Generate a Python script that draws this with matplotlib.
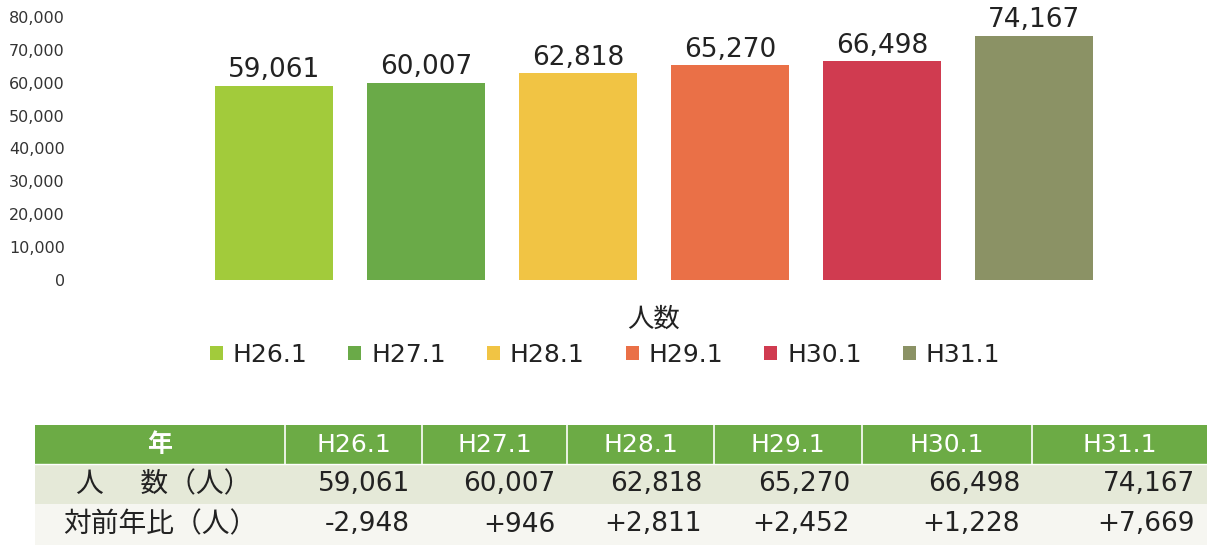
import matplotlib.pyplot as plt
from matplotlib.patches import Rectangle

# data
years = ['H26.1', 'H27.1', 'H28.1', 'H29.1', 'H30.1', 'H31.1']
people = [59061, 60007, 62818, 65270, 66498, 74167]
diff = ['-2,948', '+946', '+2,811', '+2,452', '+1,228', '+7,669']
row_labels = ['年', '人\u3000 数（人）', '対前年比（人）']
colors = ['#a2cb3b', '#6aaa48', '#f1c444', '#ea7047', '#d03b50', '#8b9265']

plt.rcParams['font.family'] = ['DejaVu Sans', 'Noto Sans CJK JP']


def main():
    fig = plt.figure(figsize=(12.1, 5.45), dpi=100, facecolor='white')

    # bar chart
    ax = fig.add_axes([198 / 1210, 1 - 280 / 545, 912 / 1210, 263 / 545])
    x = list(range(len(years)))
    bars = ax.bar(x, people, width=0.78, color=colors, label=years)
    ax.bar_label(bars, labels=[f'{v:,}' for v in people], padding=2,
                 fontsize=19, color='#222222')
    ax.set_xlim(-0.5, len(years) - 0.5)
    ax.set_ylim(0, 80000)
    ax.set_yticks(range(0, 80001, 10000))
    ax.set_yticklabels([f'{v:,}' for v in range(0, 80001, 10000)])
    ax.tick_params(axis='y', length=0, pad=96, labelsize=11.5, labelcolor='#333333')
    ax.set_xticks([])
    for s in ax.spines.values():
        s.set_visible(False)
    ax.set_xlabel('人数', fontsize=19, labelpad=19, color='#222222')

    fig.legend(handles=bars.patches, labels=years, loc='center',
               bbox_to_anchor=(605 / 1210, 1 - 355 / 545), ncol=6, frameon=False,
               fontsize=18, handlelength=0.52, handleheight=0.48,
               handletextpad=0.4, columnspacing=1.64, labelcolor='#222222')

    # table drawn in pixel coordinates
    tx = fig.add_axes([0, 0, 1, 1])
    tx.set_xlim(0, 1210)
    tx.set_ylim(545, 0)
    tx.axis('off')
    col_edges = [35, 285, 422, 567, 714, 862, 1032, 1207]
    row_edges = [425, 464, 504, 545]
    row_bg = ['#6cab45', '#e5e9d8', '#f6f6f1']
    for r in range(3):
        tx.add_patch(Rectangle((col_edges[0], row_edges[r]), col_edges[-1] - col_edges[0],
                               row_edges[r + 1] - row_edges[r], facecolor=row_bg[r],
                               edgecolor='none'))
    for c in col_edges[1:-1]:
        tx.plot([c, c], [row_edges[0], row_edges[1]], color='white', lw=1.2)
    tx.plot([col_edges[0], col_edges[-1]], [row_edges[1], row_edges[1]], color='white', lw=1)

    ymid = [(row_edges[i] + row_edges[i + 1]) / 2 for i in range(3)]
    lab_x = (col_edges[0] + col_edges[1]) / 2
    tx.text(lab_x, ymid[0], row_labels[0], ha='center', va='center', fontsize=18,
            color='white', fontweight='bold')
    tx.text(lab_x + 4, ymid[1], row_labels[1], ha='center', va='center', fontsize=20,
            color='#222222')
    tx.text(lab_x, ymid[2], row_labels[2], ha='center', va='center', fontsize=20,
            color='#222222')
    for i, y in enumerate(years):
        cx = (col_edges[i + 1] + col_edges[i + 2]) / 2
        rx = col_edges[i + 2] - 12
        tx.text(cx, ymid[0], y, ha='center', va='center', fontsize=18, color='white')
        tx.text(rx, ymid[1], f'{people[i]:,}', ha='right', va='center', fontsize=19,
                color='#222222')
        tx.text(rx, ymid[2], diff[i], ha='right', va='center', fontsize=19,
                color='#222222')

    plt.savefig('out.png', dpi=100, facecolor='white')


if __name__ == '__main__':
    main()
